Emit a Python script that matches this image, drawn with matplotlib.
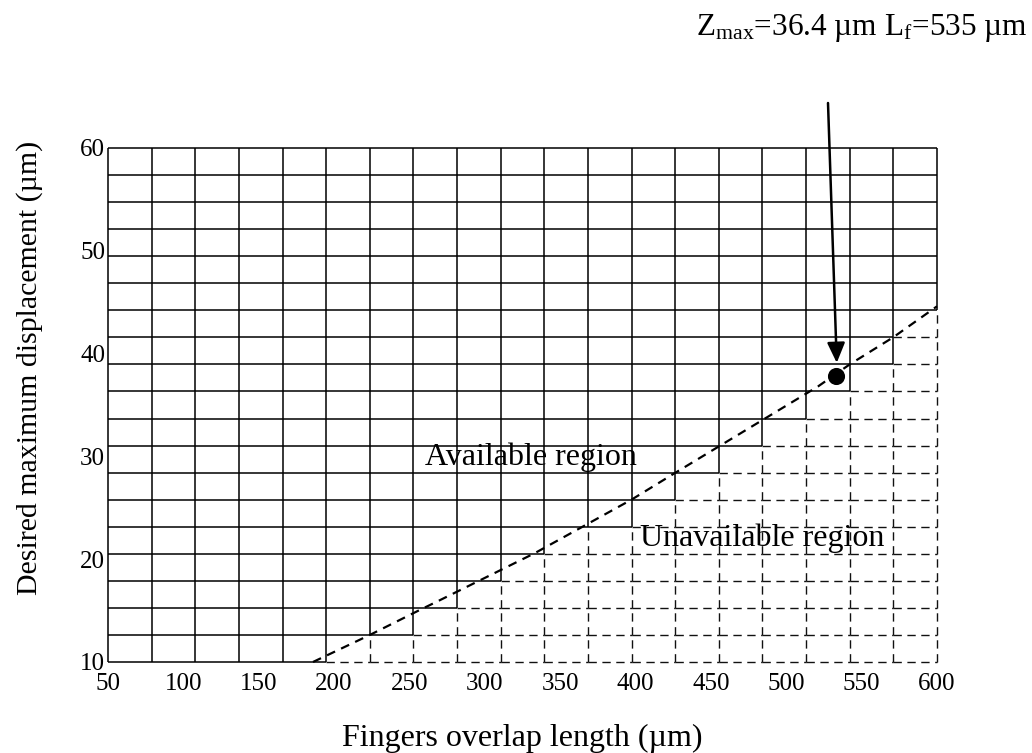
import numpy as np
import matplotlib
matplotlib.use("Agg")
import matplotlib.pyplot as plt
from matplotlib.collections import LineCollection

plt.rcParams['font.family'] = ['Liberation Serif', 'DejaVu Serif']
plt.rcParams['mathtext.fontset'] = 'custom'
plt.rcParams['mathtext.rm'] = 'Liberation Serif'
plt.rcParams['mathtext.it'] = 'Liberation Serif:italic'

# ---- data ----
x_ticks = [50, 100, 150, 200, 250, 300, 350, 400, 450, 500, 550, 600]
y_ticks = [10, 20, 30, 40, 50, 60]
n_cols = 19
n_rows = 19
boundary_x = [186.0, 223.7, 256.0, 270.0, 333.3, 397.4, 426.3, 521.0, 542.1, 571.1, 600.0]
boundary_y = [10.0, 12.63, 15.0, 16.0, 20.6, 25.8, 28.4, 36.8, 38.95, 41.6, 44.6]
point_x = 533
point_y = 37.8
annotation = "Z$_{\\mathrm{max}}$=36.4 µm L$_{\\mathrm{f}}$=535 µm"
label_avail = "Available region"
label_unavail = "Unavailable region"
xlabel = "Fingers overlap length (µm)"
ylabel = "Desired maximum displacement (µm)"

xmin, xmax = 50, 600
ymin, ymax = 10, 60

fig = plt.figure(figsize=(10.32, 7.53), dpi=100)
ax = fig.add_axes([108/1032, 1-662/753, (937-108)/1032, (662-148)/753])
ax.set_xlim(xmin, xmax)
ax.set_ylim(ymin, ymax)

gx = np.linspace(xmin, xmax, n_cols + 1)
gy = np.linspace(ymin, ymax, n_rows + 1)

def curve(x):
    return np.interp(x, boundary_x, boundary_y, left=-1e9, right=1e9)

# cell availability (True = unavailable)
unavail = np.zeros((n_cols, n_rows), dtype=bool)
for k in range(n_cols):
    xc = 0.5 * (gx[k] + gx[k+1])
    for j in range(n_rows):
        yc = 0.5 * (gy[j] + gy[j+1])
        unavail[k, j] = yc < curve(xc) - 0.15

solid, dashed = [], []
# horizontal edges
for j in range(n_rows + 1):
    for k in range(n_cols):
        adj = []
        if j - 1 >= 0:
            adj.append(unavail[k, j-1])
        if j < n_rows:
            adj.append(unavail[k, j])
        seg = [(gx[k], gy[j]), (gx[k+1], gy[j])]
        (dashed if all(adj) else solid).append(seg)
# vertical edges
for k in range(n_cols + 1):
    for j in range(n_rows):
        adj = []
        if k - 1 >= 0:
            adj.append(unavail[k-1, j])
        if k < n_cols:
            adj.append(unavail[k, j])
        seg = [(gx[k], gy[j]), (gx[k], gy[j+1])]
        (dashed if all(adj) else solid).append(seg)

ax.add_collection(LineCollection(dashed, colors='#111111', linewidths=1.0,
                                 linestyles=(0, (6, 4)), clip_on=False, zorder=1))
ax.add_collection(LineCollection(solid, colors='black', linewidths=1.1,
                                 clip_on=False, zorder=2))

for s in ax.spines.values():
    s.set_visible(False)

# boundary curve
ax.plot(boundary_x, boundary_y, color='black', lw=1.6, ls=(0, (4, 3)), zorder=3, clip_on=False)
# design point
ax.plot([point_x], [point_y], 'o', color='black', ms=11.3, zorder=4)

ax.set_xticks(x_ticks)
ax.set_yticks(y_ticks)
ax.tick_params(length=0, labelsize=18)
ax.tick_params(axis='x', pad=8)
ax.tick_params(axis='y', pad=2)

ax.set_xlabel(xlabel, fontsize=23)
ax.xaxis.set_label_coords(0.5, -0.12)
ax.set_ylabel(ylabel, fontsize=21.5)
ax.yaxis.set_label_coords(-0.079, 0.572)

ax.text(260, 29.17, label_avail, fontsize=23, va='baseline', ha='left', zorder=5)
ax.text(403, 21.29, label_unavail, fontsize=23, va='baseline', ha='left', zorder=5)

ax.annotate("", xy=(point_x + 0.5, point_y + 1.3), xycoords='data',
            xytext=(828/1032, 1-103/753), textcoords='figure fraction',
            arrowprops=dict(arrowstyle='-|>,head_length=1.22,head_width=0.54',
                            color='black', lw=1.8, shrinkA=0, shrinkB=0),
            annotation_clip=False, zorder=5)
fig.text(1028/1032, 1-35/753, annotation, fontsize=22.5, ha='right', va='baseline')

fig.savefig("out.png", dpi=100)
